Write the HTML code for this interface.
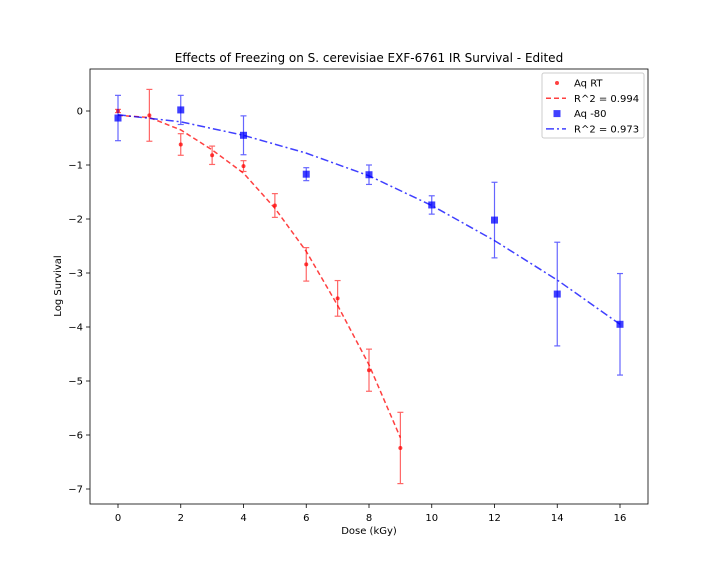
<!DOCTYPE html>
<html><head><meta charset="utf-8"><style>
body{margin:0;background:#fff}
svg{display:block;font-family:"DejaVu Sans","Liberation Sans",sans-serif}
</style></head><body>
<svg id="chart" width="720" height="576" xmlns="http://www.w3.org/2000/svg">
<rect width="720" height="576" fill="#fff"/>
<text x="369" y="62" font-size="12" text-anchor="middle">Effects of Freezing on S. cerevisiae EXF-6761 IR Survival - Edited</text>
<text x="369" y="534" font-size="10" text-anchor="middle">Dose (kGy)</text>
<text x="61" y="286" font-size="10" text-anchor="middle" transform="rotate(-90 61 286)">Log Survival</text>
<g id="plot"></g>
</svg>
<script>
const xTicks=[0,2,4,6,8,10,12,14,16];
const yTicks=[0,-1,-2,-3,-4,-5,-6,-7];
const rtDose=[0,1,2,3,4,5,6,7,8,9];
const rtVal=[0,-0.08,-0.62,-0.82,-1.02,-1.75,-2.84,-3.47,-4.8,-6.24];
const rtErr=[0.03,0.48,0.2,0.17,0.1,0.22,0.31,0.33,0.39,0.66];
const rtFit=[-0.08,-0.12,-0.35,-0.72,-1.15,-1.8,-2.6,-3.6,-4.7,-6.05];
const frDose=[0,2,4,6,8,10,12,14,16];
const frVal=[-0.13,0.02,-0.45,-1.17,-1.18,-1.74,-2.02,-3.39,-3.95];
const frErr=[0.42,0.27,0.36,0.12,0.18,0.17,0.7,0.96,0.94];
const frFit=[-0.07,-0.2,-0.45,-0.78,-1.2,-1.75,-2.4,-3.13,-3.95];

const L=90,R=648,T=69,B=504;
const xs=v=>118+v*(620-118)/16;
const ys=v=>111-v*54;
const NS="http://www.w3.org/2000/svg";
const g=document.getElementById('plot');
function mk(tag,attrs,parent){const e=document.createElementNS(NS,tag);for(const k in attrs)e.setAttribute(k,attrs[k]);(parent||g).appendChild(e);return e;}

xTicks.forEach(t=>{
  const x=xs(t);
  const l=mk('line',{x1:x,x2:x,y1:B,y2:B+4,stroke:'#000','stroke-width':0.8});
  
  
  const tx=mk('text',{x:x,y:B+17,'font-size':10,'text-anchor':'middle'});
  tx.textContent=t;
  
  
});
yTicks.forEach(t=>{
  const y=ys(t);
  const l=mk('line',{x1:L-4,x2:L,y1:y,y2:y,stroke:'#000','stroke-width':0.8});
  
  
  const tx=mk('text',{x:L-7,y:y+3.5,'font-size':10,'text-anchor':'end'});
  tx.textContent=t<0?'\u2212'+(-t):t;
  
  
});

function series(dose,val,err,fit,color,dash,marker,name){
  const pts=dose.map((d,i)=>xs(d)+','+ys(fit[i])).join(' ');
  const pl=mk('polyline',{points:pts,fill:'none',stroke:color,'stroke-width':1.5,'stroke-dasharray':dash,opacity:0.75});
  
  
  dose.forEach((d,i)=>{
    const x=xs(d),y1=ys(val[i]+err[i]),y2=ys(val[i]-err[i]);
    const eg=mk('g',{stroke:color,'stroke-width':1.2,opacity:0.6});
    
    
    mk('line',{x1:x,x2:x,y1:y1,y2:y2},eg);
    mk('line',{x1:x-3,x2:x+3,y1:y1,y2:y1},eg);
    mk('line',{x1:x-3,x2:x+3,y1:y2,y2:y2},eg);
    let m;
    if(marker==='sq') m=mk('rect',{x:x-3.5,y:ys(val[i])-3.5,width:7,height:7,fill:color,opacity:0.75});
    else m=mk('circle',{cx:x,cy:ys(val[i]),r:2,fill:color,opacity:0.75});
    
    
  });
}
series(rtDose,rtVal,rtErr,rtFit,'#ff0000','5 3','dot','aq-rt');
series(frDose,frVal,frErr,frFit,'#0000ff','8 3 2 3','sq','aq-80');

const fr=mk('rect',{x:L,y:T,width:R-L,height:B-T,fill:'none',stroke:'#000','stroke-width':0.8});



const lg=mk('g',{});


mk('rect',{x:542,y:73,width:102,height:65,rx:2,fill:'#fff',stroke:'#ccc','stroke-width':1},lg);
const entries=[['Aq RT','dot','#ff0000',''],['R^2 = 0.994','line','#ff0000','5 3'],['Aq -80','sq','#0000ff',''],['R^2 = 0.973','line','#0000ff','8 3 2 3']];
entries.forEach((e,i)=>{
  const y=83+i*15.3;
  const eg=mk('g',{},lg);
  
  
  if(e[1]==='dot') mk('circle',{cx:557,cy:y,r:2,fill:e[2],opacity:0.75},eg);
  else if(e[1]==='sq') mk('rect',{x:553.5,y:y-3.5,width:7,height:7,fill:e[2],opacity:0.75},eg);
  else mk('line',{x1:546,x2:566,y1:y,y2:y,stroke:e[2],'stroke-width':1.5,'stroke-dasharray':e[3],opacity:0.75},eg);
  const t=mk('text',{x:574,y:y+3.5,'font-size':10},eg);
  t.textContent=e[0];
});
</script>
</body></html>
